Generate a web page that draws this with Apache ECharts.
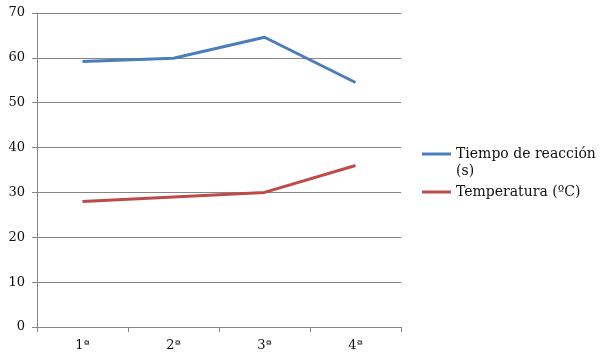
<!DOCTYPE html>
<html><head><meta charset="utf-8">
<script src="https://cdn.jsdelivr.net/npm/echarts@6/dist/echarts.min.js"></script>
<style>html,body{margin:0;padding:0;background:#fff}#c{width:616px;height:359px}</style>
</head><body><div id="c"></div>
<script>
const categories = ['1ª', '2ª', '3ª', '4ª'];
const tiempo = [59.2, 59.9, 64.6, 54.5];
const temperatura = [28, 29, 30, 36];
const seriesNames = ['Tiempo de reacción (s)', 'Temperatura (ºC)'];
const yTicks = {min: 0, max: 70, interval: 10};

const FONT = '"DejaVu Serif", serif';
const legendText = {fontFamily: FONT, fontSize: 14, color: '#111'};
const legendBase = {orient: 'vertical', left: 422, padding: 0, itemWidth: 29, itemHeight: 3, icon: 'rect', textStyle: legendText};
const chart = echarts.init(document.getElementById('c'));
chart.setOption({
  animation: false,
  backgroundColor: '#fff',
  grid: {left: 37, right: 215, top: 13, bottom: 32, containLabel: false},
  legend: [
    Object.assign({}, legendBase, {top: 147, data: [seriesNames[0]], formatter: () => 'Tiempo de reacción'}),
    Object.assign({}, legendBase, {top: 185, data: [seriesNames[1]]})
  ],
  graphic: [{type: 'text', left: 456, top: 164, style: {text: '(s)', font: '14px "DejaVu Serif"', fill: '#111'}}],
  xAxis: {
    type: 'category', data: categories, boundaryGap: true,
    axisLine: {lineStyle: {color: '#868686', width: 1}},
    axisTick: {show: true, length: 5, lineStyle: {color: '#868686'}},
    axisLabel: {fontFamily: FONT, fontSize: 13, color: '#111', margin: 12}
  },
  yAxis: {
    type: 'value', min: yTicks.min, max: yTicks.max, interval: yTicks.interval,
    axisLine: {show: true, lineStyle: {color: '#868686'}},
    axisTick: {show: true, length: 5, lineStyle: {color: '#868686'}},
    splitLine: {lineStyle: {color: '#868686'}},
    axisLabel: {fontFamily: FONT, fontSize: 13, color: '#111', margin: 12}
  },
  series: [
    {name: seriesNames[0], type: 'line', data: tiempo, symbol: 'none', lineStyle: {color: '#4A7EBB', width: 3}, itemStyle: {color: '#4A7EBB'}},
    {name: seriesNames[1], type: 'line', data: temperatura, symbol: 'none', lineStyle: {color: '#BE4B48', width: 3}, itemStyle: {color: '#BE4B48'}}
  ]
});
</script></body></html>
